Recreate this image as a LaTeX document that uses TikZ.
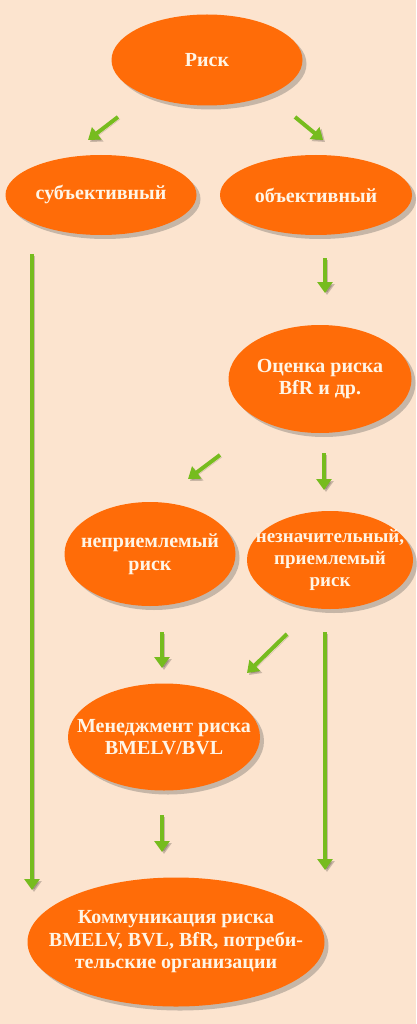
\documentclass[tikz,border=0pt]{standalone}
\usepackage{fontspec}
\setmainfont{Liberation Serif}
\usetikzlibrary{shapes.geometric, arrows.meta, shadows}
\definecolor{peach}{RGB}{252,228,207}
\definecolor{riskorange}{RGB}{255,108,8}
\definecolor{arrowgreen}{RGB}{118,188,30}
\definecolor{cream}{RGB}{255,245,230}

\begin{document}
\begin{tikzpicture}[x=1pt, y=-1pt,
  every node/.style={font=\bfseries\fontsize{20}{22.5}\selectfont, align=center, text=cream},
  oval/.style={ellipse, fill=riskorange, inner xsep=-40pt, inner ysep=-30pt,
    drop shadow={shadow xshift=4pt, shadow yshift=-4pt, opacity=0.3, fill=black!70}},
  arr/.style={-{Triangle[width=15pt,length=11pt]}, line width=4pt, arrowgreen,
    preaction={draw=black, opacity=0.2, transform canvas={shift={(2pt,-2pt)}}}}]
\path[use as bounding box, fill=peach] (0,0) rectangle (416,1024);

\node (risk) [oval, minimum width=191pt, minimum height=91pt] at (207,60) {Риск};
\node (subj) [oval, minimum width=191pt, minimum height=80pt] at (101,195) {субъективный};
\node (obj) [oval, minimum width=192pt, minimum height=80pt] at (316,195) {объективный};
\node (assess) [oval, minimum width=183pt, minimum height=108pt] at (320,379) {Оценка риска\\BfR и др.};
\node (unacc) [oval, minimum width=171pt, minimum height=104pt] at (150,554) {неприемлемый\\риск};
\node (acc) [oval, minimum width=166pt, minimum height=98pt, font=\bfseries\fontsize{19}{22}\selectfont] at (330,560) {незначительный,\\приемлемый\\риск};
\node (manage) [oval, minimum width=192pt, minimum height=107pt] at (164,737) {Менеджмент риска\\BMELV/BVL};
\node (comm) [oval, minimum width=297pt, minimum height=129pt] at (176,942) {Коммуникация риска\\BMELV, BVL, BfR, потреби-\\тельские организации};

% arrow ends
\coordinate (riskL) at (118,117);
\coordinate (subjIn) at (88,140);
\coordinate (riskR) at (295,117);
\coordinate (objIn) at (323,140);
\coordinate (subjOut) at (32,254);
\coordinate (commL) at (32,890);
\coordinate (objOut) at (325,258);
\coordinate (assessIn) at (325,293);
\coordinate (assessL) at (220,455);
\coordinate (unaccIn) at (188,479);
\coordinate (assessD) at (324,453);
\coordinate (accIn) at (324,490);
\coordinate (unaccOut) at (162,632);
\coordinate (manageIn) at (162,668);
\coordinate (accL) at (287,634);
\coordinate (manageR) at (247,673);
\coordinate (accOut) at (325,632);
\coordinate (commR) at (325,870);
\coordinate (manageOut) at (162,815);
\coordinate (commIn) at (162,852);

\draw[arr] (riskL) -- (subjIn);
\draw[arr] (riskR) -- (objIn);
\draw[arr] (subjOut) -- (commL);
\draw[arr] (objOut) -- (assessIn);
\draw[arr] (assessL) -- (unaccIn);
\draw[arr] (assessD) -- (accIn);
\draw[arr] (unaccOut) -- (manageIn);
\draw[arr] (accL) -- (manageR);
\draw[arr] (accOut) -- (commR);
\draw[arr] (manageOut) -- (commIn);
\end{tikzpicture}
\end{document}
